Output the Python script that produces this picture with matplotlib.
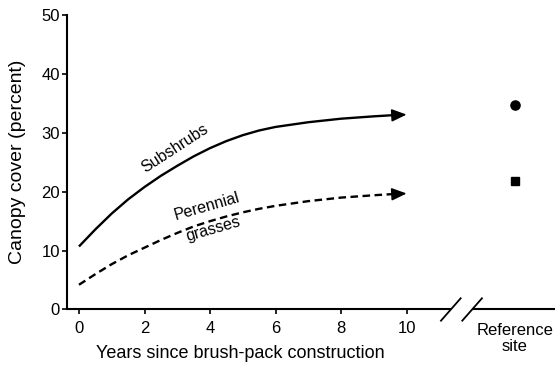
import matplotlib.pyplot as plt

plt.rcParams["font.family"] = ["Liberation Sans", "DejaVu Sans"]

years = [0, 0.5, 1, 1.5, 2, 2.5, 3, 3.5, 4, 4.5, 5, 5.5, 6, 7, 8, 9, 10]
subshrubs = [10.7, 13.6, 16.3, 18.7, 20.8, 22.7, 24.4, 26.0, 27.4, 28.6,
             29.6, 30.4, 31.0, 31.8, 32.4, 32.8, 33.1]
grasses = [4.2, 6.0, 7.7, 9.2, 10.5, 11.8, 13.0, 14.1, 15.0, 15.8,
           16.5, 17.1, 17.6, 18.4, 19.0, 19.4, 19.7]

ref_x = 13.3
ref_subshrubs = 34.8
ref_grasses = 21.9

x_ticks = [0, 2, 4, 6, 8, 10]
y_ticks = [0, 10, 20, 30, 40, 50]
break_at = [11.35, 12.0]
x_limits = (-0.366, 14.53)

fig = plt.figure(figsize=(5.55, 3.67), dpi=100)
ax = fig.add_axes([0.1207, 0.1567, 0.8793, 0.8023])
ax.set_xlim(*x_limits)
ax.set_ylim(0, 50)


def arrow_end(xs, ys):
    # short shaft along the last segment so only the head shows
    x0 = xs[-2] + 0.85 * (xs[-1] - xs[-2])
    y0 = ys[-2] + 0.85 * (ys[-1] - ys[-2])
    ax.annotate(
        "",
        xy=(xs[-1], ys[-1]),
        xytext=(x0, y0),
        arrowprops=dict(
            arrowstyle="-|>,head_length=0.9,head_width=0.38",
            color="black",
            lw=1.2,
            shrinkA=0,
            shrinkB=0,
        ),
    )


ax.plot(years[:-1] + [years[-1] - 0.2], subshrubs[:-1] + [subshrubs[-1] - 0.03],
        color="black", lw=1.7, solid_capstyle="butt")
arrow_end(years, subshrubs)
ax.plot(years[:-1] + [years[-1] - 0.2], grasses[:-1] + [grasses[-1] - 0.03],
        color="black", lw=1.7, dashes=(3.2, 1.9))
arrow_end(years, grasses)

ax.plot([ref_x], [ref_subshrubs], "o", color="black", markersize=6.6)
ax.plot([ref_x], [ref_grasses], "s", color="black", markersize=5.6)

ax.text(2.93, 27.4, "Subshrubs", rotation=33, ha="center", va="center",
        fontsize=11.5)
ax.text(3.91, 17.5, "Perennial", rotation=16, ha="center", va="center",
        fontsize=11.5)
ax.text(4.09, 13.6, "grasses", rotation=16, ha="center", va="center",
        fontsize=11.5)

# broken x axis
ax.spines[["top", "right", "bottom"]].set_visible(False)
ax.spines["left"].set_linewidth(1.5)
ax.plot([x_limits[0], break_at[0]], [0, 0], color="black", lw=1.5,
        clip_on=False, solid_capstyle="butt")
ax.plot([break_at[1], x_limits[1]], [0, 0], color="black", lw=1.5,
        clip_on=False, solid_capstyle="butt")
for b in break_at:
    ax.plot([b - 0.3, b + 0.3], [-1.9, 1.9], color="black", lw=1.3,
            clip_on=False)

ax.set_xticks(x_ticks)
ax.set_yticks(y_ticks)
ax.tick_params(axis="both", direction="out", length=3.5, width=1.2,
               labelsize=12, colors="black")
ax.tick_params(axis="y", pad=1.5)
ax.tick_params(axis="x", pad=5)

ax.text(ref_x, -2.3, "Reference\nsite", ha="center", va="top", fontsize=12,
        linespacing=1.05)

ax.set_ylabel("Canopy cover (percent)", fontsize=14)
ax.yaxis.set_label_coords(-0.085, 0.5)
ax.set_xlabel("Years since brush-pack construction", fontsize=13)
ax.xaxis.set_label_coords(0.355, -0.12)

fig.savefig("out.png", dpi=100)
